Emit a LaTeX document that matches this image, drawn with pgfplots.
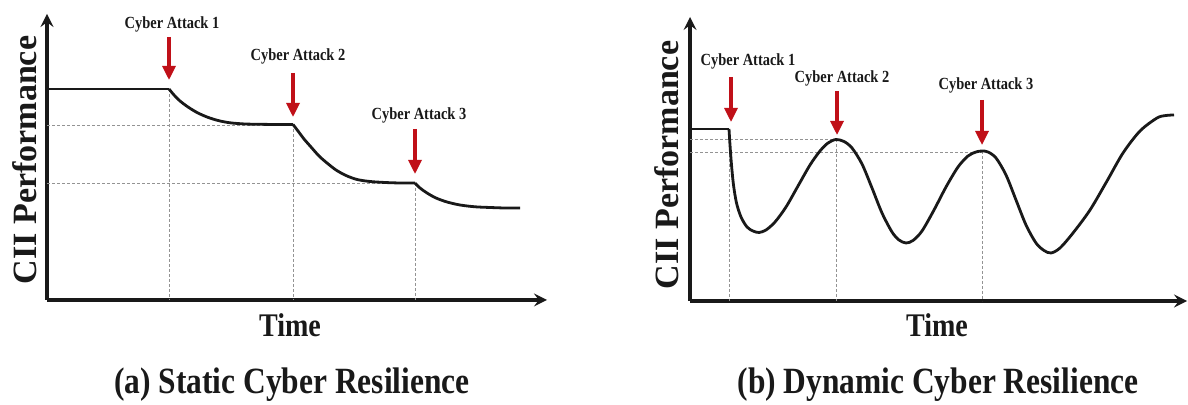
\documentclass[border=0pt]{standalone}
\usepackage{fontspec}
\setmainfont{Liberation Serif}
\newfontfamily\condfont{Liberation Serif}[FakeStretch=0.85]
\usepackage{pgfplots}
\pgfplotsset{compat=1.18}
\usetikzlibrary{arrows.meta}
\definecolor{atk}{RGB}{192,16,24}
\definecolor{ink}{RGB}{25,25,25}
\tikzset{
  atklbl/.style={font=\condfont\bfseries\fontsize{8.5}{9}\selectfont, text=ink},
  timelbl/.style={font=\condfont\bfseries\fontsize{16.5}{18}\selectfont, text=ink},
  captxt/.style={font=\condfont\bfseries\fontsize{18.5}{20}\selectfont, text=ink},
  ylabtxt/.style={font=\bfseries\fontsize{17}{19}\selectfont, text=ink, rotate=90},
}
\pgfplotsset{
  panel/.style={scale only axis, axis lines=left, xtick=\empty, ytick=\empty, clip=false,
    axis line style={line width=1.8pt, ink},
    every inner x axis line/.append style={-{Latex[length=6pt,width=5.5pt]}},
    every inner y axis line/.append style={-{Latex[length=6pt,width=5.5pt]}},
    anchor=south west},
  curve/.style={line width=1.4pt, ink, no marks, line join=round},
  guide/.style={line width=0.4pt, gray!85, dash pattern=on 1.4pt off 1.1pt, no marks},
  attack/.style={line width=1.6pt, atk, no marks, -{Triangle[length=7pt,width=6.5pt]}},
}
\begin{document}
\begin{tikzpicture}
\useasboundingbox (0,0) rectangle (594pt,202.5pt);
% ---------------- (a) Static ----------------
\begin{axis}[panel, at={(23.5pt,52.5pt)}, width=250pt, height=143pt,
  xmin=47, xmax=547, ymin=-300, ymax=-14]
\addplot[guide] coordinates {(47,-125)(293,-125)};
\addplot[guide] coordinates {(47,-183)(415,-183)};
\addplot[guide] coordinates {(169,-89)(169,-300)};
\addplot[guide] coordinates {(293,-124)(293,-300)};
\addplot[guide] coordinates {(415,-183)(415,-300)};
\addplot[curve] coordinates {(47,-89)(169,-89)};
\addplot[curve, smooth] coordinates {(169,-89)(174,-95)(180,-101)(188,-107)(197,-112.5)(207,-117)(218,-120.5)(230,-122.8)(245,-124)(260,-124.3)(276,-124.5)(293,-124.5)};
\addplot[curve, smooth] coordinates {(293,-124.5)(298,-131)(304,-139)(311,-147)(319,-156)(327,-163)(336,-170)(346,-175.5)(357,-179.5)(370,-181.5)(385,-182.5)(400,-183)(415,-183)};
\addplot[curve, smooth] coordinates {(415,-183)(420,-188)(427,-193)(436,-198)(447,-202)(460,-205)(475,-206.8)(490,-207.5)(505,-208)(520,-208)};
\addplot[attack] coordinates {(169,-37)(169,-80)};
\addplot[attack] coordinates {(293,-73)(293,-117)};
\addplot[attack] coordinates {(415,-129)(415,-174)};
\node[atklbl] at (axis cs:172,-24) {Cyber Attack 1};
\node[atklbl] at (axis cs:298,-56) {Cyber Attack 2};
\node[atklbl] at (axis cs:419,-115) {Cyber Attack 3};
\node[ylabtxt] at (axis cs:25,-160) {CII Performance};
\node[timelbl] at (axis cs:290,-325) {Time};
\node[captxt] at (axis cs:292,-385) {(a) Static Cyber Resilience};
\end{axis}
% ---------------- (b) Dynamic ----------------
\begin{axis}[panel, at={(345pt,52pt)}, width=248.5pt, height=142pt,
  xmin=690, xmax=1187, ymin=-301, ymax=-17]
\addplot[guide] coordinates {(729,-129)(729,-301)};
\addplot[guide] coordinates {(836,-139)(836,-301)};
\addplot[guide] coordinates {(982,-151)(982,-301)};
\addplot[guide] coordinates {(690,-139)(836,-139)};
\addplot[guide] coordinates {(690,-152)(982,-152)};
\addplot[curve] coordinates {(690,-129)(729,-129)};
\addplot[curve, smooth] coordinates {(729,-129)(730,-145)(731.5,-165)(733.5,-185)(736.5,-203)(741,-217)(747,-227)(753,-231)(759,-232.5)(766,-230)(775,-222)(786,-207)(798,-186)(810,-165)(820,-151)(828,-143)(836,-139.5)(844,-141.5)(852,-148)(862,-164)(872,-188)(882,-213)(892,-232)(899,-240)(906,-243)(913,-240.5)(922,-231)(934,-210)(946,-187)(958,-167)(968,-156)(976,-152)(982,-151)(988,-152)(996,-158)(1006,-175)(1016,-200)(1026,-225)(1036,-243)(1044,-250.5)(1051,-253)(1060,-248)(1073,-233)(1090,-210)(1107,-181)(1123,-153)(1140,-131)(1157,-118)(1166,-115.5)(1174,-115)};
\addplot[attack] coordinates {(731,-77)(731,-122)};
\addplot[attack] coordinates {(837,-91)(837,-135)};
\addplot[attack] coordinates {(982,-100)(982,-145)};
\node[atklbl] at (axis cs:748,-61) {Cyber Attack 1};
\node[atklbl] at (axis cs:842,-78) {Cyber Attack 2};
\node[atklbl] at (axis cs:986,-85) {Cyber Attack 3};
\node[ylabtxt] at (axis cs:667,-165) {CII Performance};
\node[timelbl] at (axis cs:937,-325) {Time};
\node[captxt] at (axis cs:938,-385) {(b) Dynamic Cyber Resilience};
\end{axis}
\end{tikzpicture}
\end{document}
